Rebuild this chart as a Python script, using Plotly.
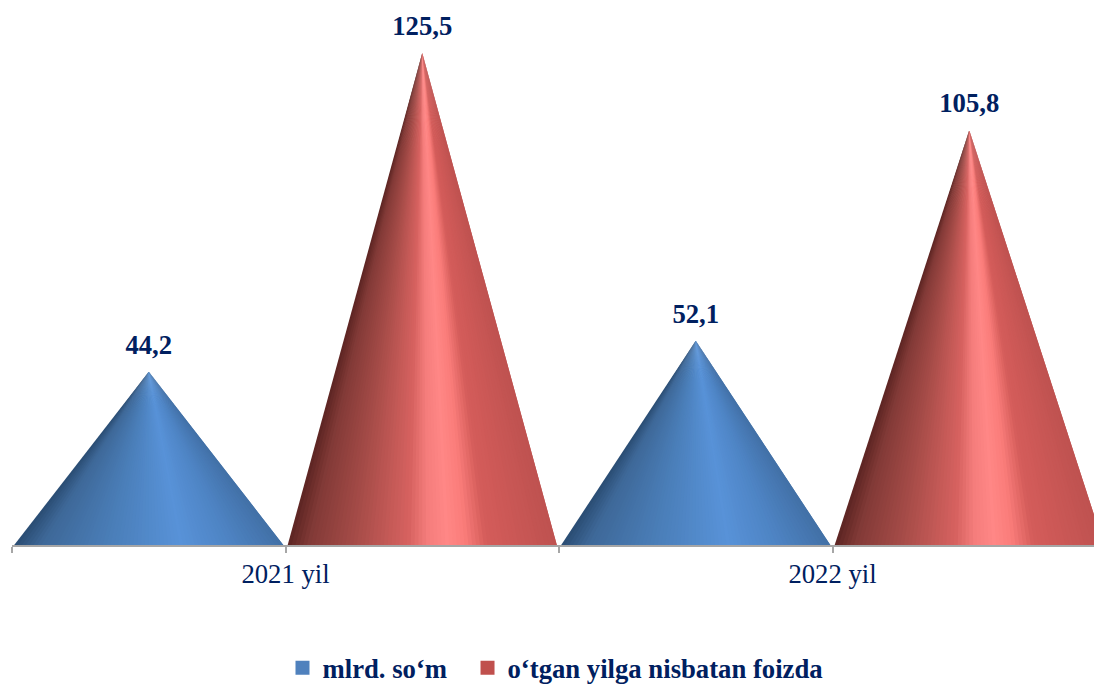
import plotly.graph_objects as go

categories = ["2021 yil", "2022 yil"]
series_names = ["mlrd. so‘m", "o‘tgan yilga nisbatan foizda"]
som_values = [44.2, 52.1]
percent_values = [125.5, 105.8]
value_labels_som = ["44,2", "52,1"]
value_labels_percent = ["125,5", "105,8"]

NAVY = "#002060"
FONT = "Liberation Serif"
N_WEDGES = 70
BLUE_STOPS = [(0.0, (42, 76, 114)), (0.1, (62, 104, 152)), (0.35, (74, 126, 184)),
              (0.62, (88, 146, 216)), (0.8, (78, 132, 196)), (1.0, (66, 112, 166))]
RED_STOPS = [(0.0, (92, 36, 34)), (0.08, (130, 58, 55)), (0.25, (166, 76, 72)),
             (0.45, (215, 98, 96)), (0.52, (245, 125, 124)), (0.59, (255, 135, 134)),
             (0.66, (250, 125, 122)), (0.74, (212, 92, 90)), (1.0, (190, 82, 80))]


def shade(stops, t):
    for (a, ca), (b, cb) in zip(stops, stops[1:]):
        if t <= b:
            f = (t - a) / (b - a)
            return "rgb(%d,%d,%d)" % tuple(round(p + (q - p) * f) for p, q in zip(ca, cb))
    return "rgb(%d,%d,%d)" % stops[-1][1]


def add_cone(fig, centre, value, stops, half_width=0.492):
    left = centre - half_width
    step = 2 * half_width / N_WEDGES
    for i in range(N_WEDGES):
        x0 = left + i * step
        # each wedge reaches under the next one so no seam shows
        x1 = left + min(i + 2, N_WEDGES) * step
        fig.add_trace(go.Scatter(
            x=[x0, centre, x1, x0], y=[0, value, 0, 0],
            mode="lines", line=dict(width=0), fill="toself",
            fillcolor=shade(stops, (i + 0.5) / N_WEDGES),
            hoverinfo="skip", showlegend=False,
        ))


fig = go.Figure()
for k, cat in enumerate(categories):
    add_cone(fig, 2 * k + 0.5, som_values[k], BLUE_STOPS)
    add_cone(fig, 2 * k + 1.5, percent_values[k], RED_STOPS)

label_style = dict(mode="markers+text", textposition="top center",
                   marker=dict(size=16, opacity=0), showlegend=False,
                   textfont=dict(family=FONT, size=26.7, color=NAVY, weight="bold"))
fig.add_trace(go.Scatter(x=[2 * k + 0.5 for k in range(2)], y=som_values,
                         text=value_labels_som, **label_style))
fig.add_trace(go.Scatter(x=[2 * k + 1.5 for k in range(2)], y=percent_values,
                         text=value_labels_percent, **label_style))

fig.add_trace(go.Scatter(x=[None], y=[None], mode="markers", name=series_names[0],
                         marker=dict(symbol="square", size=14, color="#4f81bd")))
fig.add_trace(go.Scatter(x=[None], y=[None], mode="markers", name=series_names[1], legend="legend2",
                         marker=dict(symbol="square", size=14, color="#c0504d")))

legend_style = dict(orientation="h", xanchor="left", y=-0.2255, yanchor="middle",
                    font=dict(family=FONT, size=26.7, color=NAVY, weight="bold"),
                    bgcolor="rgba(0,0,0,0)", itemwidth=30)

fig.update_layout(
    width=1094, height=684, autosize=False,
    margin=dict(l=12, r=0, t=0, b=139, autoexpand=False),
    paper_bgcolor="white", plot_bgcolor="white",
    font=dict(family=FONT, color=NAVY),
    xaxis=dict(range=[0, 1082 / 273.5], tickmode="array", tickvals=[1, 3], ticktext=categories,
               ticks="", ticklabelstandoff=4, showgrid=False, zeroline=False,
               showline=True, linecolor="#a6a6a6", linewidth=2,
               tickfont=dict(family=FONT, size=26.7, color=NAVY),
               minor=dict(tickmode="array", tickvals=[0, 1, 2, 3], ticks="outside",
                          ticklen=6, tickwidth=2, tickcolor="#a6a6a6", showgrid=False)),
    yaxis=dict(range=[0, 139], visible=False),
    showlegend=True,
    legend=dict(x=0.25, **legend_style),
    legend2=dict(x=0.421, **legend_style),
)
fig.write_html("out.html", config={"displayModeBar": False},
               post_script="document.body.style.margin='0';document.documentElement.style.overflow='hidden';")
